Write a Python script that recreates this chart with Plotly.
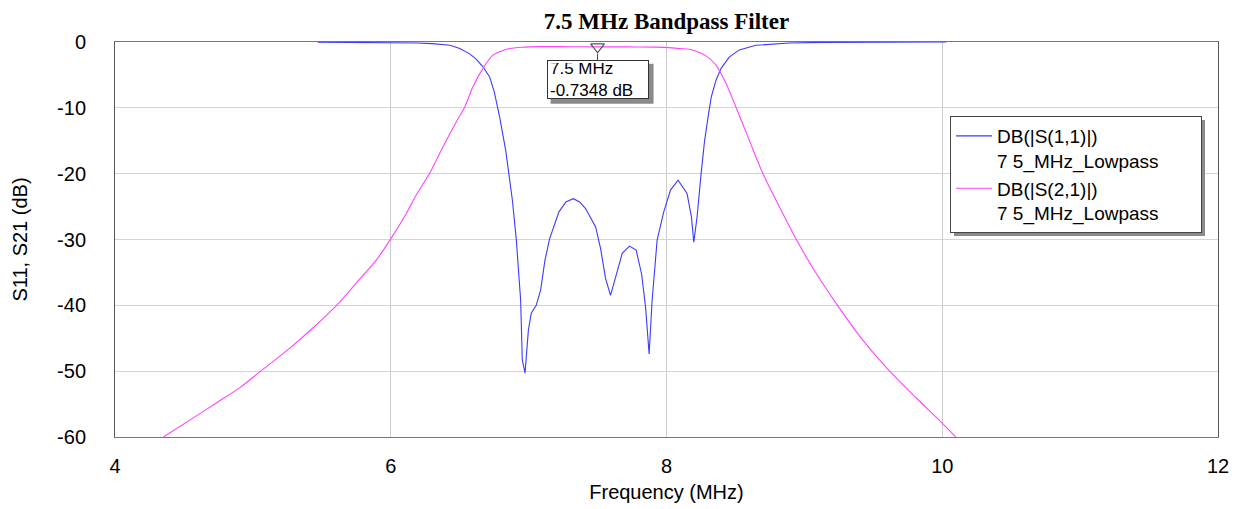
import plotly.graph_objects as go

# ---- data ----
s11_freq = [5.47, 5.8, 6.04, 6.19, 6.30, 6.43, 6.50, 6.57, 6.62, 6.67, 6.717, 6.75, 6.79,
            6.834, 6.882, 6.911, 6.942, 6.954, 6.974, 6.998, 7.019, 7.055, 7.087, 7.118,
            7.152, 7.22, 7.27, 7.324, 7.37, 7.413, 7.486, 7.522, 7.558, 7.594, 7.631,
            7.679, 7.732, 7.78, 7.819, 7.848, 7.874, 7.896, 7.932, 7.98, 8.029, 8.084,
            8.149, 8.181, 8.198, 8.222, 8.251, 8.275, 8.30, 8.324, 8.359, 8.396, 8.455,
            8.528, 8.648, 8.89, 9.13, 9.6, 10.03]
s11_db = [-0.02, -0.03, -0.05, -0.15, -0.25, -0.5, -1.0, -1.76, -2.6, -3.8, -5.3, -7.5, -11.4,
          -16.5, -24.0, -30.1, -39.2, -48.3, -50.3, -43.8, -41.2, -40.0, -37.7, -33.2,
          -29.9, -25.8, -24.3, -23.8, -24.3, -25.3, -28.1, -31.4, -35.9, -38.5, -35.7,
          -32.1, -31.0, -31.6, -35.2, -40.2, -47.4, -39.2, -30.1, -25.8, -22.5, -21.0,
          -23.0, -26.6, -30.4, -26.5, -20.0, -15.2, -11.6, -8.4, -5.8, -4.0, -2.3,
          -1.2, -0.5, -0.15, -0.05, -0.02, -0.01]

s21_freq = [4.351, 4.568, 4.737, 4.906, 5.075, 5.268, 5.437, 5.607, 5.751, 5.896, 6.0,
            6.114, 6.186, 6.283, 6.379, 6.476, 6.536, 6.596, 6.669, 6.741, 6.80, 6.862,
            6.95, 7.08, 7.3, 7.5, 7.7, 7.90, 8.02, 8.09, 8.166, 8.24, 8.287, 8.359, 8.432,
            8.504, 8.60, 8.697, 8.818, 8.939, 9.084, 9.24, 9.421, 9.615, 9.808, 9.996, 10.098]
s21_db = [-60.0, -57.1, -54.8, -52.5, -49.7, -46.5, -43.4, -40.0, -36.6, -33.1, -29.9,
          -26.0, -23.2, -19.9, -15.9, -12.1, -9.9, -6.8, -4.0, -2.0, -1.4, -1.0,
          -0.8, -0.7, -0.72, -0.7348, -0.74, -0.78, -0.85, -1.0, -1.1, -1.6, -2.1, -3.5, -6.3,
          -9.9, -14.9, -19.9, -25.0, -29.9, -35.1, -40.0, -45.2, -49.9, -54.0, -57.8, -60.0]

marker_freq = 7.5
marker_db = -0.7348

x_ticks = [4, 6, 8, 10, 12]
y_ticks = [0, -10, -20, -30, -40, -50, -60]
y_ticktext = ["0", "-10", "-20", "-30", "-40", "-50", "-60"]

PAD = "\u00a0" * 7  # widen legend box like the reference
s11_name = "DB(|S(1,1)|)<br>7 5_MHz_Lowpass" + PAD
s21_name = "DB(|S(2,1)|)<br>7 5_MHz_Lowpass" + PAD

BLUE = "#3b3bff"
MAGENTA = "#ff44ff"
FONT = "Liberation Sans, Arial, sans-serif"

# page body has an 8px margin; figure is sized to the rest of the window
W, H = 1232, 501
OFF = 8
PL, PR, PT, PB = 115 - OFF, 1218 - OFF, 42 - OFF, 437 - OFF  # plot area in figure px

fig = go.Figure()
fig.add_trace(go.Scatter(x=s11_freq, y=s11_db, mode="lines", name=s11_name,
                         line=dict(color=BLUE, width=1.1)))
fig.add_trace(go.Scatter(x=s21_freq, y=s21_db, mode="lines", name=s21_name,
                         line=dict(color=MAGENTA, width=1.1, shape="spline", smoothing=0.8)))
fig.add_trace(go.Scatter(x=[marker_freq], y=[marker_db], mode="markers", showlegend=False,
                         marker=dict(symbol="triangle-down-open", size=12,
                                     color="#555555", line=dict(width=1.2))))

# marker label box
label = f"{marker_freq} MHz<br>{marker_db} dB"
fig.add_annotation(x=marker_freq, y=marker_db, text=label, showarrow=True,
                   arrowhead=0, arrowwidth=1, arrowcolor="#444444", standoff=7,
                   ax=0, ay=33, align="left", width=96, height=33,
                   font=dict(family=FONT, size=17, color="black"),
                   bgcolor="white", bordercolor="#333333", borderwidth=1, borderpad=2)
# shadow of the marker label box
fig.add_shape(type="rect", xref="x", yref="y", xsizemode="pixel", ysizemode="pixel",
              xanchor=marker_freq, yanchor=marker_db, x0=-47, x1=56, y0=-57, y1=-17,
              fillcolor="#8a8a8a", line=dict(width=0), layer="above")

# legend placement (paper fraction of plot area)
LEG_L, LEG_T, LEG_W, LEG_H = 950, 116, 251, 116
leg_x = (LEG_L - 115) / 1103
leg_y = (437 - LEG_T) / 395
fig.add_shape(type="rect", xref="paper", yref="paper", xsizemode="pixel", ysizemode="pixel",
              xanchor=leg_x, yanchor=leg_y, x0=4, x1=LEG_W + 4, y0=-4, y1=-(LEG_H + 4),
              fillcolor="#8a8a8a", line=dict(width=0), layer="above")

fig.update_layout(
    width=W, height=H,
    margin=dict(l=PL, r=W - PR, t=PT, b=H - PB, autoexpand=False),
    paper_bgcolor="white", plot_bgcolor="white",
    title=dict(text="<b>7.5 MHz Bandpass Filter</b>",
               x=((115 + 1218) / 2 - OFF) / W, xanchor="center",
               y=1 - (21 - OFF) / H, yanchor="middle",
               font=dict(family="Liberation Serif, Times New Roman, serif", size=23,
                         color="black")),
    font=dict(family=FONT, size=20, color="black"),
    showlegend=True,
    legend=dict(x=leg_x, y=leg_y, xanchor="left", yanchor="top",
                bgcolor="white", bordercolor="#444444", borderwidth=1,
                font=dict(family=FONT, size=19, color="black"),
                itemwidth=36, valign="top", tracegroupgap=4),
    hovermode=False,
)
fig.update_xaxes(range=[4, 12], tickvals=x_ticks, showgrid=True, gridcolor="#cccccc",
                 gridwidth=1, showline=True, linecolor="#777777", linewidth=1, mirror=True,
                 zeroline=False, ticks="", ticklabelstandoff=11, automargin=False,
                 tickfont=dict(family=FONT, size=20),
                 title=dict(text="Frequency (MHz)", font=dict(family=FONT, size=20), standoff=8))
fig.update_yaxes(range=[-60, 0], tickvals=y_ticks, ticktext=y_ticktext, showgrid=True,
                 gridcolor="#d4d4d4", gridwidth=1, showline=True, linecolor="#555555",
                 linewidth=1, mirror=True, zeroline=False, ticks="", ticklabelstandoff=24,
                 automargin=False, tickfont=dict(family=FONT, size=20),
                 title=dict(text="S11, S21 (dB)", font=dict(family=FONT, size=20), standoff=24))

fig.write_html("out.html")
